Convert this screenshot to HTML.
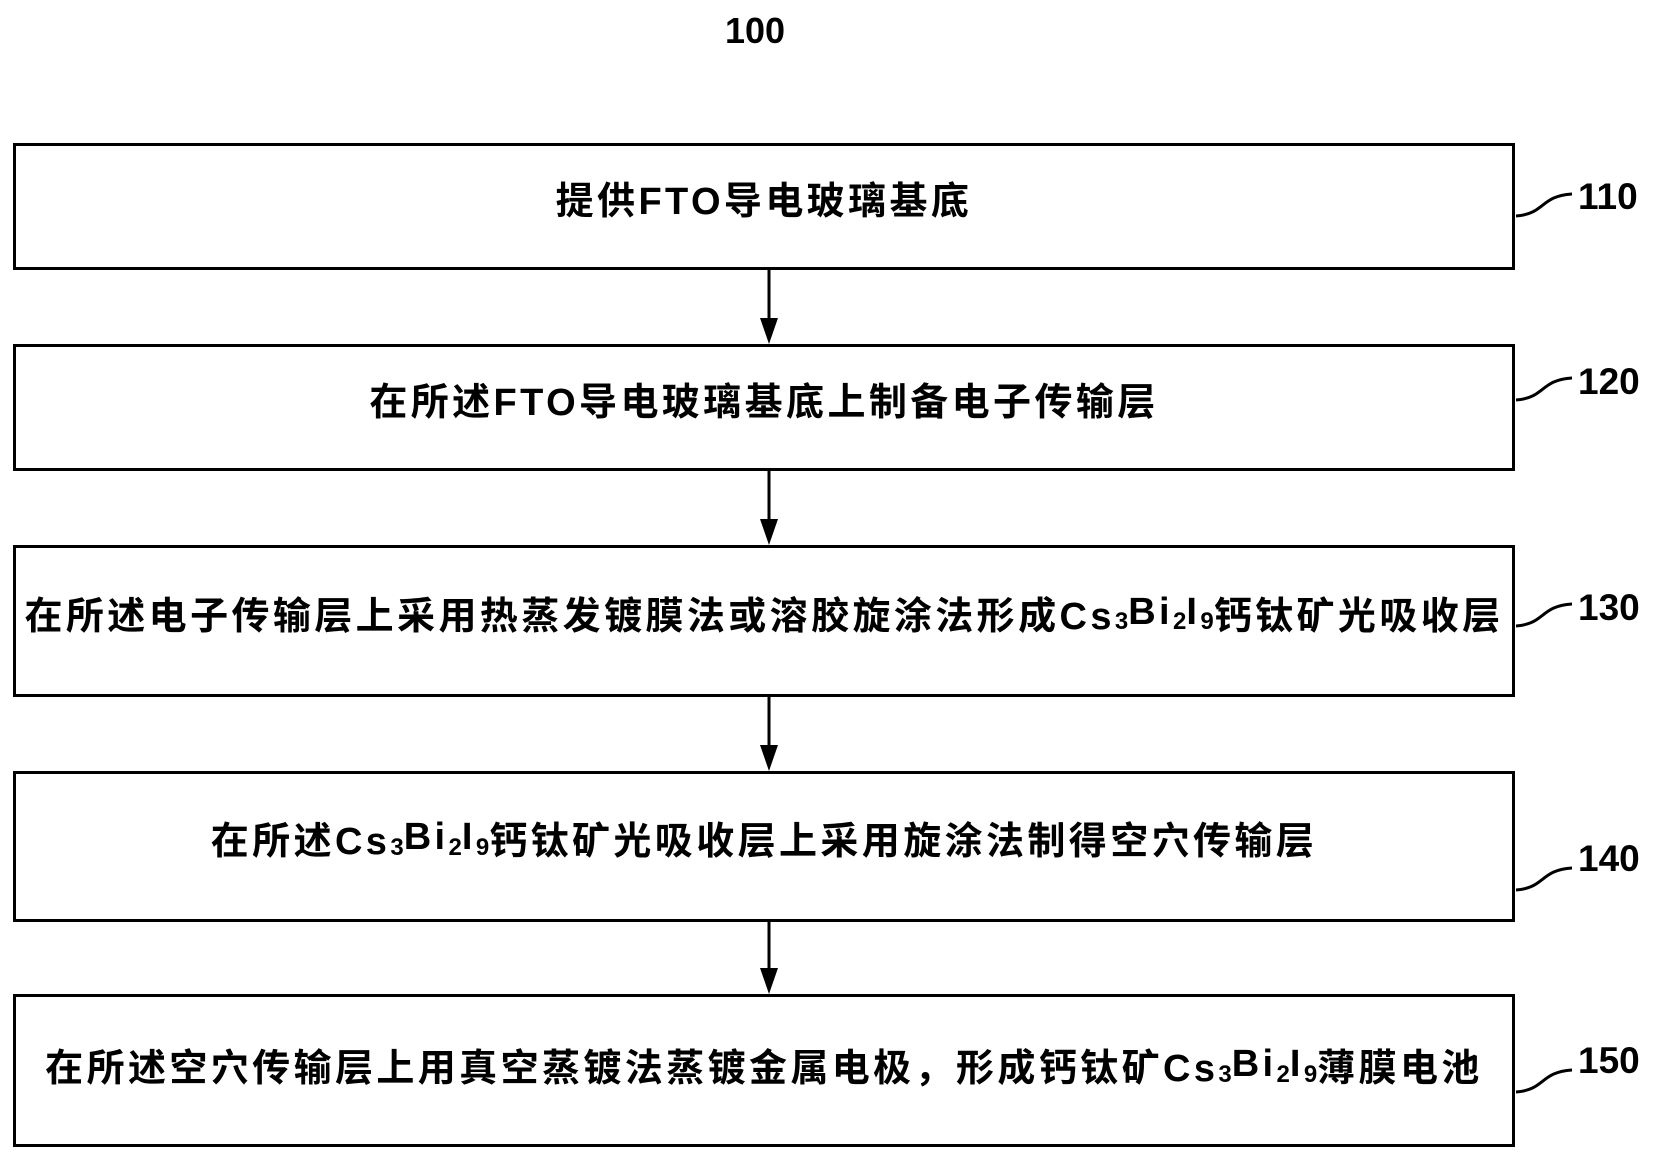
<!DOCTYPE html>
<html><head><meta charset="utf-8"><style>
body{margin:0;width:1653px;height:1159px;background:#fff;position:relative;overflow:hidden;font-family:"Liberation Sans","Noto Sans CJK SC",sans-serif;font-weight:bold;color:#000}
.b{position:absolute;left:13px;width:1502px;border:3px solid #000;box-sizing:border-box;display:flex;align-items:center;justify-content:center;font-size:38px;letter-spacing:3.4px;white-space:nowrap;padding-bottom:18px}
.s{font-size:24px;position:relative;top:10px;letter-spacing:0}
.l{position:absolute;left:1578px;font-size:37px;font-family:"Liberation Sans",sans-serif}
svg{position:absolute;left:0;top:0}
</style></head><body>
<div style="position:absolute;left:725px;top:10px;font-size:36px">100</div>
<div class="b" style="top:143px;height:127px">提供FTO导电玻璃基底</div>
<div class="b" style="top:344px;height:127px">在所述FTO导电玻璃基底上制备电子传输层</div>
<div class="b" style="top:545px;height:152px">在所述电子传输层上采用热蒸发镀膜法或溶胶旋涂法形成Cs<span class="s">3</span>Bi<span class="s">2</span>I<span class="s">9</span>钙钛矿光吸收层</div>
<div class="b" style="top:771px;height:151px">在所述Cs<span class="s">3</span>Bi<span class="s">2</span>I<span class="s">9</span>钙钛矿光吸收层上采用旋涂法制得空穴传输层</div>
<div class="b" style="top:994px;height:153px;padding-bottom:12px">在所述空穴传输层上用真空蒸镀法蒸镀金属电极，形成钙钛矿Cs<span class="s">3</span>Bi<span class="s">2</span>I<span class="s">9</span>薄膜电池</div>
<div class="l" style="top:176px">110</div>
<div class="l" style="top:361px">120</div>
<div class="l" style="top:587px">130</div>
<div class="l" style="top:838px">140</div>
<div class="l" style="top:1040px">150</div>
<svg width="1653" height="1159">
<g stroke="#000" stroke-width="3" fill="none">
<path d="M1516 216 C1545 214,1540 196,1572 194"/>
<path d="M1516 400 C1545 398,1540 380,1572 378"/>
<path d="M1516 626 C1545 624,1540 606,1572 604"/>
<path d="M1516 890 C1545 888,1540 870,1572 868"/>
<path d="M1516 1092 C1545 1090,1540 1072,1572 1070"/>
<line x1="769" y1="270" x2="769" y2="320"/>
<line x1="769" y1="471" x2="769" y2="520"/>
<line x1="769" y1="697" x2="769" y2="746"/>
<line x1="769" y1="922" x2="769" y2="970"/>
</g>
<g fill="#000">
<polygon points="760,318 778,318 769,344"/>
<polygon points="760,519 778,519 769,545"/>
<polygon points="760,745 778,745 769,771"/>
<polygon points="760,968 778,968 769,994"/>
</g>
</svg>
</body></html>
